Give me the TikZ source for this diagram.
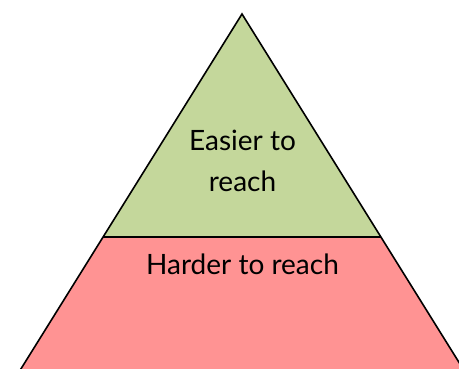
\documentclass[tikz,border=0pt]{standalone}
\usepackage{fontspec}
\setmainfont{Lato}
\usetikzlibrary{positioning}
\definecolor{easygreen}{HTML}{C4D79B}
\definecolor{hardred}{HTML}{FF9393}
\tikzset{label/.style={font=\fontsize{28}{41}\selectfont, align=center, inner sep=0pt}}

\begin{document}
\begin{tikzpicture}[x=1pt, y=-1pt]
\useasboundingbox (0,0) rectangle (459,369);
\coordinate (top) at (242,14);
\coordinate (ml) at (103,237);
\coordinate (mr) at (381,237);
\coordinate (bl) at (19,372);
\coordinate (br) at (465,372);
\path [fill=hardred] (ml) -- (mr) -- (br) -- (bl) -- cycle;
\path [fill=easygreen] (top) -- (mr) -- (ml) -- cycle;
\path [draw, line width=1.6pt, line join=miter] (bl) -- (top) -- (br);
\path [draw, line width=1.6pt] (ml) -- (mr);
\node (E) [label] at (242.5,161) {Easier to\\reach};
\node (H) [label, anchor=base] at (242.5,275) {Harder to reach};
\end{tikzpicture}
\end{document}
